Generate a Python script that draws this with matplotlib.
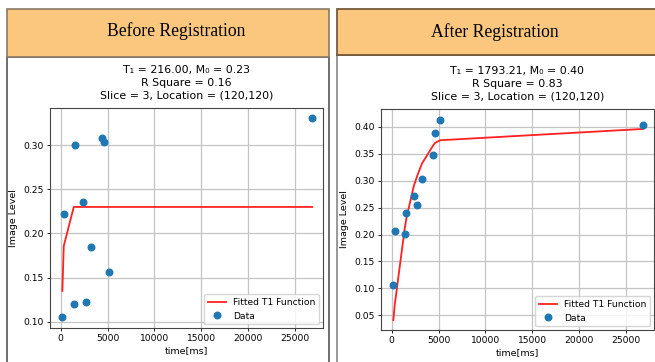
import matplotlib
matplotlib.use("Agg")
import matplotlib.pyplot as plt
from matplotlib.patches import Rectangle

# acquisition times (ms), same for both panels
times = [170, 320, 1390, 1560, 2350, 2700, 3230, 4375, 4620, 5170, 26850]

# before registration
before_data = [0.105, 0.222, 0.120, 0.300, 0.236, 0.122, 0.185, 0.308, 0.303, 0.156, 0.331]
before_fit = [0.135, 0.186, 0.230, 0.230, 0.230, 0.230, 0.230, 0.230, 0.230, 0.230, 0.230]
before_title = "T\u2081 = 216.00, M\u2080 = 0.23\nR Square = 0.16\nSlice = 3, Location = (120,120)"

# after registration
after_data = [0.106, 0.207, 0.201, 0.240, 0.271, 0.254, 0.303, 0.348, 0.389, 0.413, 0.403]
after_fit = [0.041, 0.070, 0.212, 0.230, 0.290, 0.308, 0.332, 0.364, 0.370, 0.375, 0.396]
after_title = "T\u2081 = 1793.21, M\u2080 = 0.40\nR Square = 0.83\nSlice = 3, Location = (120,120)"

plt.rcParams['font.family'] = ['DejaVu Sans']

W, H = 655, 362
fig = plt.figure(figsize=(W / 100, H / 100), dpi=100)


def box(x0, y0, x1, y1):
    # pixel box (top-left origin) -> figure fraction rect
    return [x0 / W, 1 - y1 / H, (x1 - x0) / W, (y1 - y0) / H]


def rect(x0, y0, x1, y1, fc, ec):
    l, b, w, h = box(x0, y0, x1, y1)
    fig.add_artist(Rectangle((l, b), w, h, transform=fig.transFigure,
                             facecolor=fc, edgecolor=ec, lw=1.2, zorder=-5))


# white panels with borders
rect(7, 57, 329, 380, 'white', '#555555')
rect(337, 55, 670, 380, 'white', '#888888')
# orange header boxes
rect(6.5, 8.5, 329, 57, '#FBC77F', '#8a7a66')
rect(337, 9, 670, 55, '#FBC77F', '#6b5030')
fig.text(176 / W, 1 - 31 / H, "Before Registration", family='Liberation Serif',
         fontsize=12.7, ha='center', va='center')
fig.text(495 / W, 1 - 32 / H, "After Registration", family='Liberation Serif',
         fontsize=12.7, ha='center', va='center')

panels = [
    (box(50, 108, 323, 328), before_data, before_fit, before_title, (0.093, 0.342)),
    (box(381, 109, 654, 330), after_data, after_fit, after_title, (0.0227, 0.433)),
]

for pos, data, fit, title, ylim in panels:
    ax = fig.add_axes(pos)
    ax.patch.set_alpha(0)
    ax.plot(times, fit, color='#ff2020', lw=1.3, label='Fitted T1 Function')
    ax.plot(times, data, 'o', color='#1f77b4', ms=4.7, label='Data')
    ax.set_xlim(-1150, 28000)
    ax.set_ylim(ylim)
    ax.set_xticks([0, 5000, 10000, 15000, 20000, 25000])
    ax.grid(True, color='#c4c4c4', lw=0.9)
    ax.tick_params(labelsize=6.6, length=2.5, width=0.6, pad=2)
    for s in ax.spines.values():
        s.set_color('#444444')
        s.set_linewidth(0.8)
    ax.set_title(title, fontsize=7.9, pad=6.5, linespacing=1.35)
    ax.set_xlabel('time[ms]', fontsize=6.8, labelpad=2)
    ax.set_ylabel('Image Level', fontsize=6.8, labelpad=4)
    ax.legend(loc='lower right', fontsize=6.6, borderaxespad=0.4,
              handlelength=2, framealpha=0.8)

fig.savefig('out.png', dpi=100)
